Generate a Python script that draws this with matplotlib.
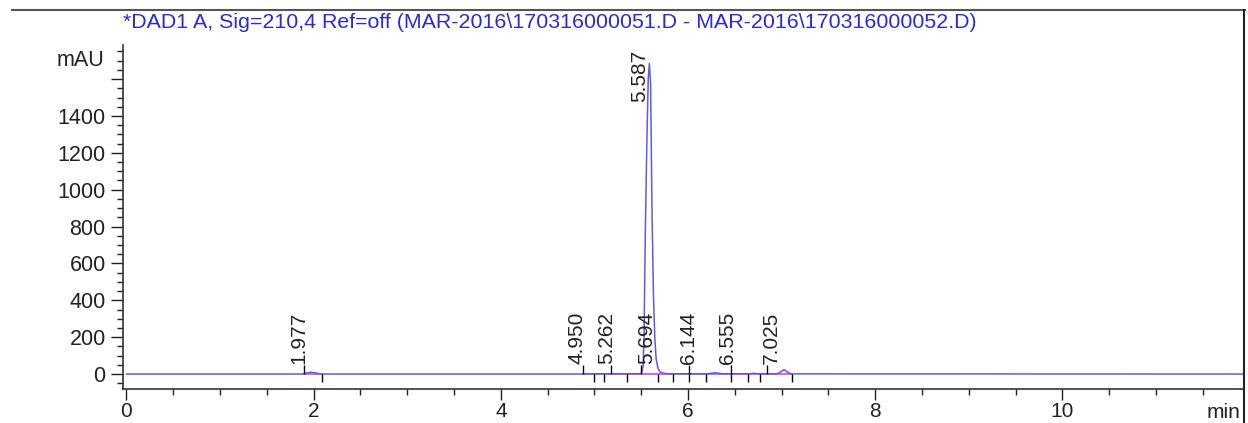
import matplotlib
matplotlib.use('Agg')
import matplotlib.pyplot as plt
from matplotlib.ticker import MultipleLocator, FuncFormatter
from matplotlib.lines import Line2D

# signal trace (min, mAU)
trace_time = [0, 1.88, 1.93, 1.97, 2.01, 2.06, 2.12, 4.85, 5.0, 5.2, 5.45, 5.50,
              5.52, 5.53, 5.545, 5.56, 5.575, 5.587, 5.60, 5.615, 5.63, 5.645,
              5.66, 5.68, 5.70, 5.73, 5.78, 5.85, 6.2, 6.25, 6.29, 6.33, 6.38,
              6.65, 6.70, 6.75, 6.95, 6.99, 7.025, 7.06, 7.10, 11.93]
trace_mau = [0, 0, 6, 10, 7, 2, 0, 0, 1, 1, 1, 3,
             40, 200, 800, 1250, 1600, 1685, 1580, 900, 450, 200,
             80, 30, 12, 5, 2, 1, 1, 4, 7, 4, 1,
             1, 4, 1, 1, 12, 24, 12, 1, 0]

# integrated peaks
peak_rt = [1.977, 4.950, 5.262, 5.587, 5.694, 6.144, 6.555, 7.025]
peak_height = [10, 1, 1, 1685, 30, 1, 4, 24]

# integration events (min)
start_marks = [1.896, 4.881, 5.176, 5.497, 6.013, 6.455, 6.840]
end_marks = [2.088, 4.995, 5.105, 5.351, 5.682, 5.842, 6.013, 6.188,
             6.455, 6.637, 6.768, 7.113]
baseline_segments = [(1.896, 2.088), (4.881, 7.113)]

title = r"*DAD1 A, Sig=210,4 Ref=off (MAR-2016\170316000051.D - MAR-2016\170316000052.D)"

plt.rcParams['font.family'] = ['Liberation Sans', 'DejaVu Sans']

fig = plt.figure(figsize=(12.48, 4.23), dpi=100)
ax = fig.add_axes([123 / 1248, 34 / 423, 1120 / 1248, 344 / 423])

# baselines and trace
for t0, t1 in baseline_segments:
    ax.plot([t0, t1], [1, 1], color='#e040e0', lw=1.2, zorder=2)
ax.plot(trace_time, trace_mau, color='#5b5bef', lw=1.1, zorder=3)

# event ticks
ax.vlines(start_marks, 0, 50, color='black', lw=1.0, zorder=4)
ax.vlines(end_marks, -45, 0, color='black', lw=1.0, zorder=4)

# retention time labels
for rt, h in zip(peak_rt, peak_height):
    if h > 100:
        ax.annotate(f"{rt:.3f}", (rt, h), xytext=(-7, 10), textcoords='offset points',
                    rotation=90, ha='center', va='top', fontsize=15, color='#222222')
    else:
        ax.annotate(f"{rt:.3f}", (rt, 0), xytext=(-9, 7), textcoords='offset points',
                    rotation=90, ha='center', va='bottom', fontsize=15, color='#222222')

ax.set_xlim(-0.037, 11.93)
ax.set_ylim(-81, 1785)

ax.xaxis.set_major_locator(MultipleLocator(2))
ax.xaxis.set_minor_locator(MultipleLocator(0.5))
ax.yaxis.set_major_locator(MultipleLocator(200))
ax.yaxis.set_minor_locator(MultipleLocator(50))
ax.yaxis.set_major_formatter(FuncFormatter(lambda v, p: '' if v > 1500 else f"{v:.0f}"))
ax.xaxis.set_major_formatter(FuncFormatter(lambda v, p: f"{v:.0f}"))

ax.tick_params(which='major', length=8.5, width=1.0, labelsize=15.5, pad=4,
               colors='#222222')
ax.tick_params(axis='x', which='major', length=8, labelsize=15, pad=1)
ax.tick_params(which='minor', length=4.5, width=1.0, colors='#222222')

for s in ['top', 'right']:
    ax.spines[s].set_visible(False)
for s in ['left', 'bottom']:
    ax.spines[s].set_color('#333333')
    ax.spines[s].set_linewidth(1.2)

# frame lines of the report
fig.add_artist(Line2D([12 / 1248, 1245 / 1248], [1 - 10 / 423, 1 - 10 / 423],
                      color='#555555', lw=1.5, transform=fig.transFigure))
fig.add_artist(Line2D([1244 / 1248, 1244 / 1248], [0, 1 - 10 / 423],
                      color='#222222', lw=1.5, transform=fig.transFigure))

fig.text(123 / 1248, 1 - 23 / 423, title, color='#2a2ad8', fontsize=15.4,
         ha='left', va='center')
fig.text(104 / 1248, 1 - 60 / 423, 'mAU', fontsize=15.5, color='#222222',
         ha='right', va='center')
fig.text(1240 / 1248, 1 - 412 / 423, 'min', fontsize=15, color='#222222',
         ha='right', va='center')

fig.savefig('out.png', dpi=100, facecolor='white')
